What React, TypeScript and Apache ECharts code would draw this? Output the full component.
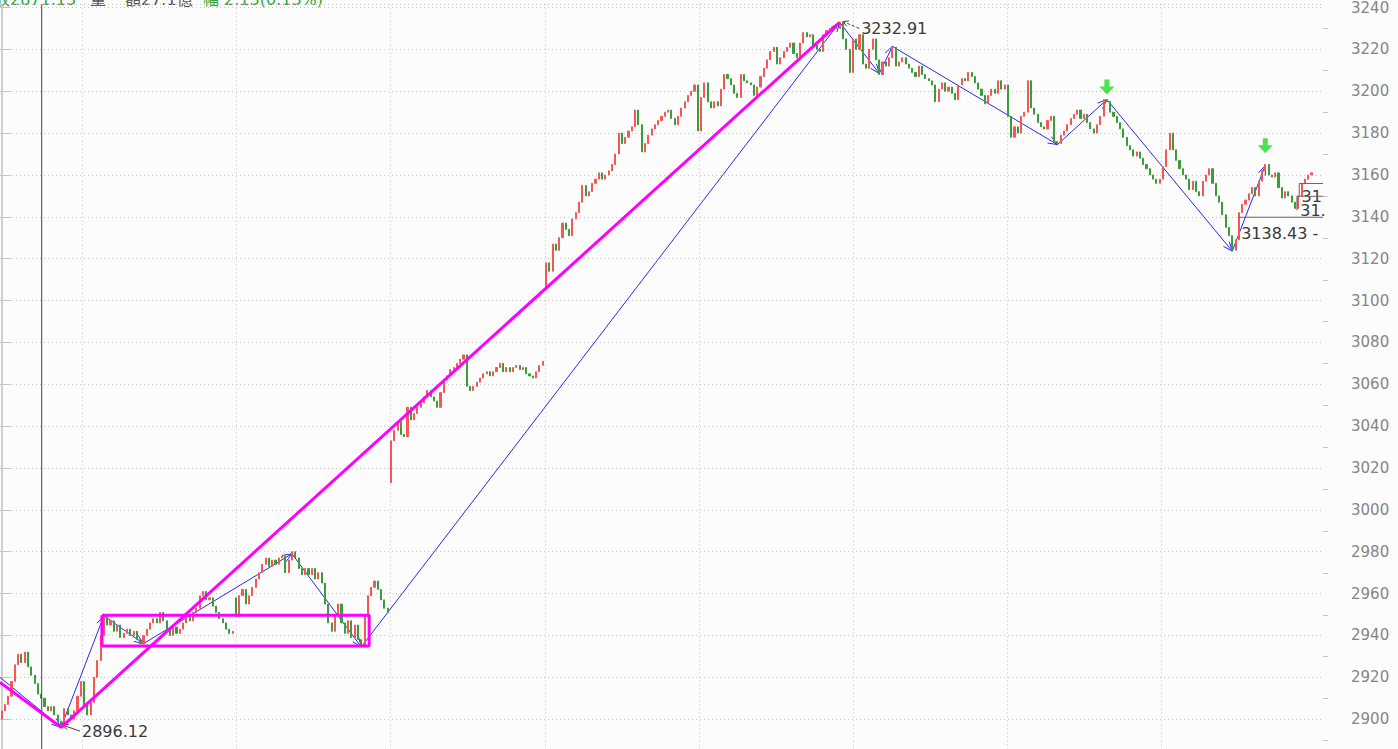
import React, { useEffect, useRef } from "react";
import * as echarts from "echarts";

// ---------- data ----------
const SLOTS = 401;
const closes = [
  2904, 2907, 2911, 2918, 2926, 2931, 2927, 2932, 2925, 2921,
  2917, 2912, 2910, 2906, 2904, 2906, 2902, 2899, 2896.12, 2905,
  2902, 2900, 2904, 2911, 2918, 2907, 2902, 2908, 2920, 2928,
  2940, 2949, 2945, 2947, 2942, 2945, 2939, 2941, 2943, 2940,
  2942, 2938, 2936, 2940, 2943, 2946, 2948, 2946, 2951, 2947,
  2943, 2940, 2944, 2941, 2943, 2946, 2949, 2947, 2951, 2953,
  2959, 2961, 2957, 2958, 2954, 2951, 2948, 2946, 2943, 2941,
  2942, 2949, 2959, 2962, 2955, 2959, 2963, 2967, 2970, 2974,
  2977, 2973, 2976, 2974, 2977, 2978, 2970, 2976, 2980, 2977,
  2972, 2969, 2972, 2969, 2972, 2967, 2970, 2965, 2955, 2946,
  2942, 2950, 2955, 2946, 2941, 2947, 2939, 2945, 2938, 2935,
  2950, 2959, 2963, 2966, 2962, 2957, 2953, 2951, 3033, 3038,
  3042, 3036, 3035, 3049, 3043, 3046, 3049, 3051, 3054, 3057,
  3054, 3052, 3049, 3056, 3062, 3064, 3067, 3068, 3070, 3072,
  3074, 3059, 3057, 3059, 3061, 3063, 3065, 3066, 3064, 3066,
  3068, 3070, 3066, 3068, 3066, 3068, 3069, 3067, 3068, 3065,
  3064, 3063, 3066, 3069, 3071, 3118, 3114, 3127, 3124, 3130,
  3137, 3134, 3131, 3139, 3142, 3147, 3155, 3150, 3152, 3156,
  3158, 3161, 3158, 3160, 3162, 3165, 3170, 3180, 3175, 3178,
  3181, 3183, 3191, 3184, 3171, 3175, 3179, 3182, 3184, 3186,
  3188, 3190, 3191, 3187, 3184, 3188, 3192, 3195, 3198, 3200,
  3203, 3181, 3197, 3204, 3195, 3192, 3195, 3193, 3201, 3208,
  3206, 3203, 3199, 3197, 3208, 3205, 3204, 3203, 3198, 3202,
  3207, 3211, 3215, 3219, 3221, 3213, 3216, 3219, 3221, 3223,
  3218, 3216, 3223, 3228, 3226, 3227, 3222, 3220, 3219, 3227,
  3229, 3230, 3231, 3230, 3232.91, 3225, 3220, 3209, 3225, 3220,
  3227, 3213, 3211, 3220, 3225, 3215, 3208, 3214, 3212, 3216,
  3221, 3212, 3214, 3216, 3213, 3211, 3209, 3207, 3212, 3208,
  3206, 3205, 3203, 3195, 3201, 3204, 3200, 3202, 3199, 3196,
  3203, 3206, 3205, 3209, 3207, 3204, 3201, 3198, 3194, 3198,
  3201, 3199, 3205, 3201, 3203, 3188, 3178, 3183, 3180, 3188,
  3190, 3205, 3192, 3189, 3185, 3183, 3182, 3186, 3188, 3176,
  3175, 3179, 3181, 3184, 3187, 3189, 3191, 3187, 3189, 3185,
  3182, 3180, 3184, 3188, 3196, 3195, 3190, 3188, 3185, 3182,
  3178, 3174, 3172, 3169, 3171, 3168, 3165, 3163, 3160, 3158,
  3156, 3158, 3164, 3172, 3180, 3172, 3167, 3163, 3160, 3158,
  3153, 3157, 3152, 3150, 3157, 3160, 3163, 3156, 3150, 3147,
  3141, 3135, 3131, 3124, 3129, 3142, 3146, 3148, 3151, 3154,
  3150, 3157, 3162, 3165, 3160, 3159, 3161, 3154, 3149, 3152,
  3150, 3147, 3144, 3150, 3156, 3158, 3160, 3161,
];
// opens that do not follow the previous close (session gaps)
const gapOpens: Record<number, number> = { 0: 2900, 71: 2958, 118: 3013, 165: 3105 };

const zigzag = [
  [-0.5, 2920], [18, 2896.12], [31, 2949.4], [43, 2936.1], [88, 2979],
  [109, 2934.5], [254, 3232.91], [266, 3208.5], [270, 3221.4], [320, 3174.5],
  [335, 3196], [373, 3123.6], [383, 3164.5],
];
const trendLine = [[-0.5, 2917.6], [18, 2896.12], [254, 3232.91]];
const boxLine = [[30.4, 2949.6], [111.4, 2949.6], [111.4, 2935], [30.4, 2935], [30.4, 2949.6]];
const signals = [[335, 3202], [383, 3174]];
const notes = [
  { from: [23.75, 2894.3], to: [18.6, 2897.1], text: "2896.12", dashed: false },
  { from: [259.9, 3230.0], to: [255.0, 3233.3], text: "3232.91", dashed: true },
];
const tags = [
  { at: [375.7, 3132.2], text: "3138.43 -" },
  { at: [394.0, 3149.6], text: "31" },
  { at: [393.6, 3143.1], text: "31." },
];
const levels = [
  [[374.8, 3139.8], [400.5, 3139.8]],
  [[392.6, 3143.1], [392.6, 3149.8], [400.5, 3149.8]],
  [[393.3, 3149.8], [393.3, 3155.9], [400.5, 3155.9]],
];
const dayLine = 12.14;
const vGrid = [24.36, 71.1, 117.84, 164.58, 211.32, 258.06, 304.8, 351.54];
const minorTicks = [2890, 2910, 2930, 2950, 2970, 2990, 3010, 3030, 3050, 3070, 3090, 3110, 3130, 3150, 3170, 3190, 3210, 3230];
const Y_MIN = 2885.754;
const Y_MAX = 3241.425;
const Y_STEP = 20;

const RED = "#f55656";
const GREEN = "#3a9c3a";
const BLUE = "#2a2aee";
const MAGENTA = "#ff00ff";
const AXIS = "#c2c2c2";
const FONT = '"DejaVu Sans", "Noto Sans CJK TC", sans-serif';

export default function App() {
  const ref = useRef<HTMLDivElement>(null);
  useEffect(() => {
    if (!ref.current) return;
    const chart = echarts.init(ref.current, undefined, { renderer: "svg" });

    const cats = Array.from({ length: SLOTS }, (_, i) => String(i));
    const candles = cats.map((_, i) => {
      if (i >= closes.length) return "-";
      const o = gapOpens[i] !== undefined ? gapOpens[i] : closes[i - 1];
      const c = closes[i];
      return [o, c, Math.min(o, c), Math.max(o, c)];
    });
    const segs = zigzag.slice(1).map((p, k) => [zigzag[k][0], zigzag[k][1], p[0], p[1]]);

    const arrowHead = (p1: number[], p2: number[], L: number, a: number) => {
      const ang = Math.atan2(p2[1] - p1[1], p2[0] - p1[0]);
      return [
        [p2[0] - L * Math.cos(ang - a), p2[1] - L * Math.sin(ang - a)],
        [p2[0], p2[1]],
        [p2[0] - L * Math.cos(ang + a), p2[1] - L * Math.sin(ang + a)],
      ];
    };

    const option: any = {
      animation: false,
      backgroundColor: "#fcfcfc",
      grid: { left: 0, right: 75, top: 0, bottom: 0, containLabel: false },
      xAxis: [
        { type: "category", data: cats, show: false, boundaryGap: true },
        { type: "value", min: -0.5, max: SLOTS - 0.5, show: false },
      ],
      yAxis: {
        type: "value",
        position: "right",
        min: Y_MIN,
        max: Y_MAX,
        minInterval: Y_STEP,
        maxInterval: Y_STEP,
        splitNumber: 18,
        axisLine: { show: true, lineStyle: { color: AXIS, width: 1.5 } },
        axisTick: { show: true, length: 9, lineStyle: { color: AXIS } },
        minorTick: { show: false },
        axisLabel: {
          color: "#858585",
          fontSize: 15,
          fontFamily: FONT,
          margin: 28,
          showMinLabel: false,
          showMaxLabel: false,
          formatter: (v: number) => String(Math.round(v)),
        },
        splitLine: { show: true, lineStyle: { color: "#c4c4c4", type: [1, 3] } },
      },
      series: [
        {
          type: "custom",
          name: "vgrid",
          xAxisIndex: 1,
          silent: true,
          data: vGrid.map((x) => [x, Y_MIN]),
          renderItem: (params: any, api: any) => {
            const x = vGrid[params.dataIndex];
            const a = api.coord([x, Y_MAX]);
            const b = api.coord([x, Y_MIN]);
            return {
              type: "line",
              shape: { x1: Math.round(a[0]) + 0.5, y1: a[1], x2: Math.round(b[0]) + 0.5, y2: b[1] },
              style: { stroke: "#c4c4c4", lineWidth: 1, lineDash: [1, 3] },
            };
          },
        },
        {
          type: "custom",
          name: "minorTicks",
          xAxisIndex: 1,
          silent: true,
          clip: false,
          data: minorTicks.map((v) => [SLOTS - 0.5, v]),
          renderItem: (params: any, api: any) => {
            const p = api.coord([SLOTS - 0.5, minorTicks[params.dataIndex]]);
            const y = Math.round(p[1]) + 0.5;
            return {
              type: "line",
              shape: { x1: p[0], y1: y, x2: p[0] + 5, y2: y },
              style: { stroke: AXIS, lineWidth: 1 },
            };
          },
        },
        {
          type: "line",
          name: "day",
          xAxisIndex: 1,
          data: [[dayLine, Y_MIN], [dayLine, Y_MAX]],
          symbol: "none",
          lineStyle: { color: "#444", width: 1 },
          silent: true,
        },
        {
          type: "candlestick",
          xAxisIndex: 0,
          data: candles,
          barWidth: 1.6,
          itemStyle: { color: RED, color0: GREEN, borderColor: RED, borderColor0: GREEN, borderWidth: 1 },
        },
        {
          type: "line",
          name: "trend",
          xAxisIndex: 1,
          data: trendLine,
          symbol: "none",
          lineStyle: { color: MAGENTA, width: 3 },
        },
        {
          type: "line",
          name: "box",
          xAxisIndex: 1,
          data: boxLine,
          symbol: "none",
          lineStyle: { color: MAGENTA, width: 3 },
        },
        {
          type: "custom",
          name: "zigzag",
          xAxisIndex: 1,
          data: segs,
          renderItem: (params: any, api: any) => {
            const s = segs[params.dataIndex];
            const p1 = api.coord([s[0], s[1]]);
            const p2 = api.coord([s[2], s[3]]);
            return {
              type: "group",
              children: [
                { type: "line", shape: { x1: p1[0], y1: p1[1], x2: p2[0], y2: p2[1] }, style: { stroke: BLUE, lineWidth: 1 } },
                { type: "polyline", shape: { points: arrowHead(p1, p2, 10, 0.38) }, style: { stroke: BLUE, lineWidth: 1, fill: null } },
              ],
            };
          },
        },
        ...levels.map((pts) => ({
          type: "line",
          xAxisIndex: 1,
          data: pts,
          symbol: "none",
          lineStyle: { color: "#666", width: 1 },
          silent: true,
        })),
        {
          type: "custom",
          name: "notes",
          xAxisIndex: 1,
          data: notes.map((n) => n.from),
          renderItem: (params: any, api: any) => {
            const n = notes[params.dataIndex];
            const p1 = api.coord(n.from);
            const p2 = api.coord(n.to);
            return {
              type: "group",
              children: [
                {
                  type: "line",
                  shape: { x1: p1[0], y1: p1[1], x2: p2[0], y2: p2[1] },
                  style: { stroke: "#444", lineWidth: 1, lineDash: n.dashed ? [3, 2] : null },
                },
                { type: "polyline", shape: { points: arrowHead(p1, p2, 6, 0.5) }, style: { stroke: "#444", lineWidth: 1, fill: null } },
                {
                  type: "text",
                  x: p1[0] + 2,
                  y: p1[1],
                  style: { text: n.text, fill: "#3a3a3a", fontSize: 16, fontFamily: FONT, align: "left", verticalAlign: "middle" },
                },
              ],
            };
          },
        },
        {
          type: "custom",
          name: "tags",
          xAxisIndex: 1,
          data: tags.map((t) => t.at),
          renderItem: (params: any, api: any) => {
            const t = tags[params.dataIndex];
            const p = api.coord(t.at);
            return {
              type: "text",
              x: p[0],
              y: p[1],
              style: { text: t.text, fill: "#3a3a3a", fontSize: 16, fontFamily: FONT, align: "left", verticalAlign: "middle" },
            };
          },
        },
        {
          type: "scatter",
          name: "signals",
          xAxisIndex: 1,
          data: signals,
          symbol: "path://M5,0 L10,0 L10,7 L15,7 L7.5,15 L0,7 L5,7 Z",
          symbolSize: [15, 15],
          itemStyle: { color: "#1edc1e" },
        },
      ],
      graphic: [
        { type: "text", x: -6, y: -9, style: { text: "收2871.13", fill: "#3aa53a", font: `16px ${FONT}` } },
        { type: "text", x: 90, y: -9, style: { text: "量", fill: "#555", font: `16px ${FONT}` } },
        { type: "text", x: 125, y: -9, style: { text: "額27.1億", fill: "#555", font: `16px ${FONT}` } },
        { type: "text", x: 203, y: -9, style: { text: "幅 2.13(0.13%)", fill: "#3aa53a", font: `16px ${FONT}` } },
      ],
    };
    chart.setOption(option);
    return () => chart.dispose();
  }, []);

  return (
    <div
      ref={ref}
      style={{ position: "fixed", left: 0, top: 0, width: 1398, height: 749 }}
    />
  );
}
